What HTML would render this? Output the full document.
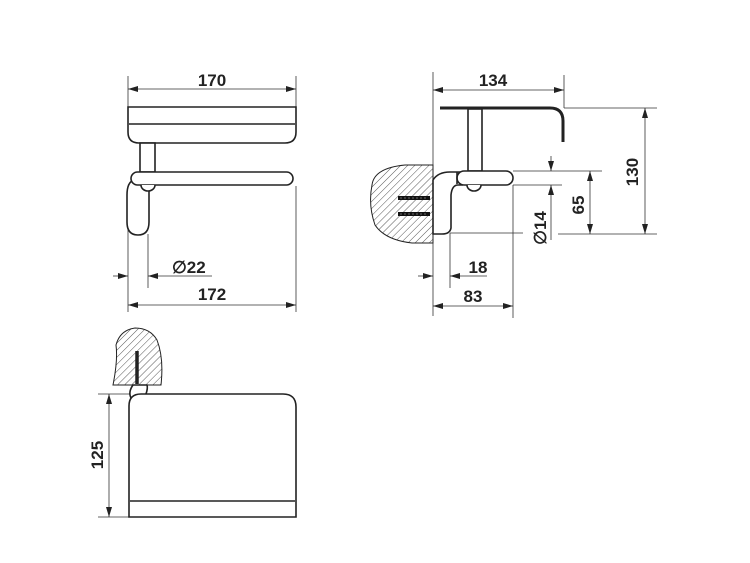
<!DOCTYPE html>
<html><head><style>body{margin:0;background:#fff}svg{display:block}text{font-family:"Liberation Sans",Arial,sans-serif;font-size:17px;fill:#222}</style></head><body>
<svg width="750" height="563" viewBox="0 0 750 563" xmlns="http://www.w3.org/2000/svg">
<defs>
<pattern id="h" width="5" height="5" patternUnits="userSpaceOnUse" patternTransform="rotate(45)"><line x1="0" y1="0" x2="0" y2="5" stroke="#444" stroke-width="0.9"/></pattern>
<marker id="a" viewBox="0 0 10 6" refX="10" refY="3" markerWidth="10" markerHeight="6" orient="auto-start-reverse" markerUnits="userSpaceOnUse"><path d="M0,0 L10,3 L0,6z" fill="#222"/></marker>
</defs>
<g stroke="#333" stroke-width="0.8" fill="none">
<line x1="128" y1="76" x2="128" y2="108"/><line x1="296" y1="76" x2="296" y2="108"/>
<line x1="128" y1="186" x2="128" y2="312"/><line x1="296" y1="186" x2="296" y2="312"/>
<line x1="148" y1="234" x2="148" y2="288"/>
<line x1="128" y1="89" x2="296" y2="89" marker-start="url(#a)" marker-end="url(#a)"/>
<line x1="113" y1="276" x2="128" y2="276" marker-end="url(#a)"/>
<line x1="212" y1="276" x2="148" y2="276" marker-end="url(#a)"/>
<line x1="128" y1="305" x2="296" y2="305" marker-start="url(#a)" marker-end="url(#a)"/>
<line x1="433" y1="72" x2="433" y2="316"/><line x1="564" y1="75" x2="564" y2="108"/>
<line x1="433" y1="90" x2="564" y2="90" marker-start="url(#a)" marker-end="url(#a)"/>
<line x1="564" y1="108" x2="657" y2="108"/>
<line x1="558" y1="234" x2="657" y2="234"/><line x1="450" y1="233" x2="523" y2="233"/>
<line x1="513" y1="171" x2="602" y2="171"/><line x1="513" y1="185" x2="562" y2="185"/>
<line x1="645" y1="108" x2="645" y2="234" marker-start="url(#a)" marker-end="url(#a)"/>
<line x1="590" y1="171" x2="590" y2="234" marker-start="url(#a)" marker-end="url(#a)"/>
<line x1="551" y1="156" x2="551" y2="171" marker-end="url(#a)"/>
<line x1="551" y1="240" x2="551" y2="185" marker-end="url(#a)"/>
<line x1="450" y1="233" x2="450" y2="288"/><line x1="513" y1="185" x2="513" y2="318"/>
<line x1="418" y1="276" x2="433" y2="276" marker-end="url(#a)"/>
<line x1="487" y1="276" x2="450" y2="276" marker-end="url(#a)"/>
<line x1="433" y1="306" x2="513" y2="306" marker-start="url(#a)" marker-end="url(#a)"/>
<line x1="98" y1="394" x2="132" y2="394"/><line x1="98" y1="517" x2="130" y2="517"/>
<line x1="109" y1="394" x2="109" y2="517" marker-start="url(#a)" marker-end="url(#a)"/>
</g>
<g stroke="#222" stroke-width="1.6" fill="#fff">
<path d="M128,107 H296 V132 Q296,143 285,143 H139 Q128,143 128,132 Z"/>
<line x1="129" y1="124" x2="295" y2="124"/>
<rect x="140" y="143" width="15" height="29"/>
<path d="M134,180 Q127,182 127,195 V222 Q127,235 138,235 Q149,235 149,222 V186 Z"/>
<rect x="131" y="172" width="162" height="13" rx="6.5"/>
<path d="M141,185 A7,6 0 0 0 155,185"/>
<path d="M372,185 Q374,168 405,165 H433 V243 H412 Q385,240 375,225 Q368,205 372,185Z" fill="url(#h)" stroke-width="1"/>
<path d="M440,108 H550 Q563,108 563,121 V142" fill="none" stroke-width="3"/>
<rect x="468" y="109" width="14" height="62"/>
<path d="M433,180 Q438,172 450,172 H462 V185 H458 Q452,185 451,195 V228 Q450,234 442,234 H433 Z"/>
<rect x="457" y="171" width="56" height="14" rx="7"/>
<line x1="457" y1="172" x2="457" y2="184"/>
<path d="M467,185 A7,6 0 0 0 481,185"/>
<line x1="398" y1="198" x2="430" y2="198" stroke-width="4" stroke="#111"/>
<line x1="398" y1="214" x2="430" y2="214" stroke-width="4" stroke="#111"/>
<line x1="400" y1="198" x2="428" y2="198" stroke-width="0.8" stroke="#888" stroke-dasharray="2,2"/>
<line x1="400" y1="214" x2="428" y2="214" stroke-width="0.8" stroke="#888" stroke-dasharray="2,2"/>
<path d="M113,385 Q118,360 116,345 Q120,330 135,328 Q150,328 157,340 Q164,358 161,385 Z" fill="url(#h)" stroke-width="1"/>
<line x1="137" y1="351" x2="137" y2="384" stroke-width="3.5"/>
<path d="M133,385 Q128,392 131,398 L146,394 Q148,388 147,385Z"/>
<path d="M129,406 Q129,394 141,394 H283 Q296,394 296,407 V517 H129 Z"/>
<line x1="130" y1="501" x2="295" y2="501"/>
</g>
<g font-weight="bold">
<text x="212" y="86" text-anchor="middle">170</text>
<text x="212" y="300" text-anchor="middle">172</text>
<text x="172" y="273">∅22</text>
<text x="493" y="86" text-anchor="middle">134</text>
<text x="478" y="273" text-anchor="middle">18</text>
<text x="473" y="302" text-anchor="middle">83</text>
<text transform="translate(638,172) rotate(-90)" text-anchor="middle">130</text>
<text transform="translate(584,205) rotate(-90)" text-anchor="middle">65</text>
<text transform="translate(546,228) rotate(-90)" text-anchor="middle">∅14</text>
<text transform="translate(103,455) rotate(-90)" text-anchor="middle">125</text>
</g>
</svg>
</body></html>
